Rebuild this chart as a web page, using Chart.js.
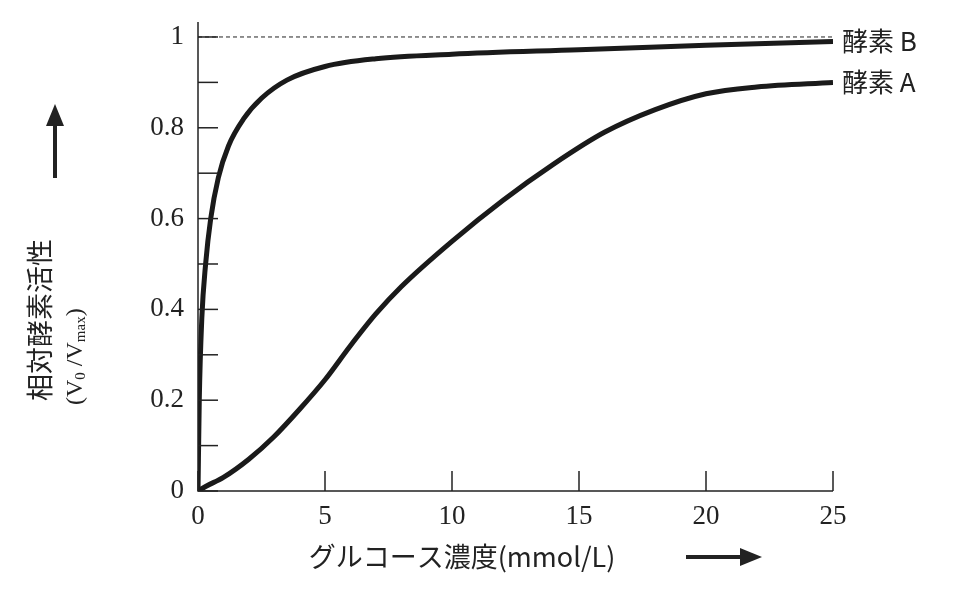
<!DOCTYPE html>
<html><head><meta charset="utf-8">
<script src="https://cdn.jsdelivr.net/npm/chart.js@4/dist/chart.umd.min.js"></script>
<style>html,body{margin:0;padding:0;background:#fff}</style>
</head><body>
<canvas id="c" width="963" height="591"></canvas>
<script>
const xB = [0,0.05,0.15,0.3,0.5,0.8,1.2,1.8,2.5,3.5,5,7,10,15,20,25];
const yB = [0,0.2,0.38,0.5,0.6,0.69,0.76,0.82,0.865,0.905,0.935,0.952,0.962,0.972,0.982,0.99];
const xA = [0,0.3,1,2,3,4,5,6,7,8,10,12,14,16,18,20,22,25];
const yA = [0,0.01,0.03,0.07,0.12,0.18,0.245,0.32,0.39,0.45,0.55,0.64,0.72,0.79,0.84,0.875,0.89,0.9];
const seriesNames = ['酵素 B','酵素 A'];
const yTicks = [0,0.2,0.4,0.6,0.8,1];
const yTickLabels = ['0','0.2','0.4','0.6','0.8','1'];
const yMinor = [0.1,0.3,0.5,0.7,0.9];
const xTicks = [0,5,10,15,20,25];
const xTitle = 'グルコース濃度(mmol/L)';
const yTitle = '相対酵素活性';

const toPts=(xs,ys)=>xs.map((x,i)=>({x,y:ys[i]}));
const serif='"Liberation Serif","DejaVu Serif",serif';
const jp='"Noto Sans CJK JP",sans-serif';

const deco={id:'deco',afterDraw(ch){
  const c=ch.ctx,xs=ch.scales.x,ys=ch.scales.y,a=ch.chartArea;
  c.save();c.strokeStyle='#222';c.fillStyle='#222';c.lineWidth=1.5;
  c.beginPath();c.moveTo(a.left,a.top);c.lineTo(a.left,a.bottom);c.lineTo(a.right,a.bottom);c.stroke();
  // dashed 1 line
  c.setLineDash([4,3]);c.lineWidth=1;c.beginPath();c.moveTo(a.left,ys.getPixelForValue(1));c.lineTo(xs.getPixelForValue(25),ys.getPixelForValue(1));c.stroke();c.setLineDash([]);
  c.lineWidth=1.5;
  yTicks.concat(yMinor).forEach(v=>{const p=ys.getPixelForValue(v);c.beginPath();c.moveTo(a.left,p);c.lineTo(a.left+20,p);c.stroke();});
  xTicks.forEach(v=>{const p=xs.getPixelForValue(v);c.beginPath();c.moveTo(p,a.bottom);c.lineTo(p,a.bottom-20);c.stroke();});
  c.font='27px '+serif;c.textAlign='right';c.textBaseline='middle';
  yTicks.forEach((v,i)=>c.fillText(yTickLabels[i],a.left-14,ys.getPixelForValue(v)));
  c.textAlign='center';c.textBaseline='top';
  xTicks.forEach(v=>c.fillText(String(v),xs.getPixelForValue(v),a.bottom+12));
  // series labels
  c.font='26px '+jp;c.textAlign='left';c.textBaseline='middle';
  c.fillText(seriesNames[0],842,ys.getPixelForValue(yB[yB.length-1]));
  c.fillText(seriesNames[1],842,ys.getPixelForValue(yA[yA.length-1]));
  // x title
  c.font='27px '+jp;c.textAlign='center';c.textBaseline='middle';
  c.fillText(xTitle,462,557);
  // right arrow
  c.lineWidth=4;c.beginPath();c.moveTo(686,557);c.lineTo(745,557);c.stroke();
  c.beginPath();c.moveTo(762,557);c.lineTo(740,548);c.lineTo(740,566);c.closePath();c.fill();
  // up arrow
  c.beginPath();c.moveTo(55,178);c.lineTo(55,122);c.stroke();
  c.beginPath();c.moveTo(55,104);c.lineTo(46,126);c.lineTo(64,126);c.closePath();c.fill();
  // y title rotated
  c.translate(40,320);c.rotate(-Math.PI/2);
  c.font='27px '+jp;c.textAlign='center';c.textBaseline='middle';
  c.fillText(yTitle,0,0);
  c.font='24px '+serif;c.textAlign='left';
  let x=-85;const y=36;
  const seg=[['(V',24,0],['0',15,5],[' /V',24,0],['max',15,5],[')',24,0]];
  seg.forEach(s=>{c.font=s[1]+'px '+serif;c.fillText(s[0],x,y+s[2]);x+=c.measureText(s[0]).width;});
  c.restore();
}};

new Chart(document.getElementById('c'),{
  type:'line',
  data:{datasets:[
    {data:toPts(xB,yB),borderColor:'#1a1a1a',borderWidth:5,pointRadius:0,cubicInterpolationMode:'monotone',fill:false},
    {data:toPts(xA,yA),borderColor:'#1a1a1a',borderWidth:5,pointRadius:0,cubicInterpolationMode:'monotone',fill:false}
  ]},
  options:{responsive:false,animation:false,
    layout:{padding:{left:198,right:130,top:22,bottom:100}},
    plugins:{legend:{display:false},tooltip:{enabled:false}},
    scales:{x:{type:'linear',min:0,max:25,display:false},y:{min:0,max:1.033,display:false}}
  },
  plugins:[deco]
});
</script>
</body></html>
